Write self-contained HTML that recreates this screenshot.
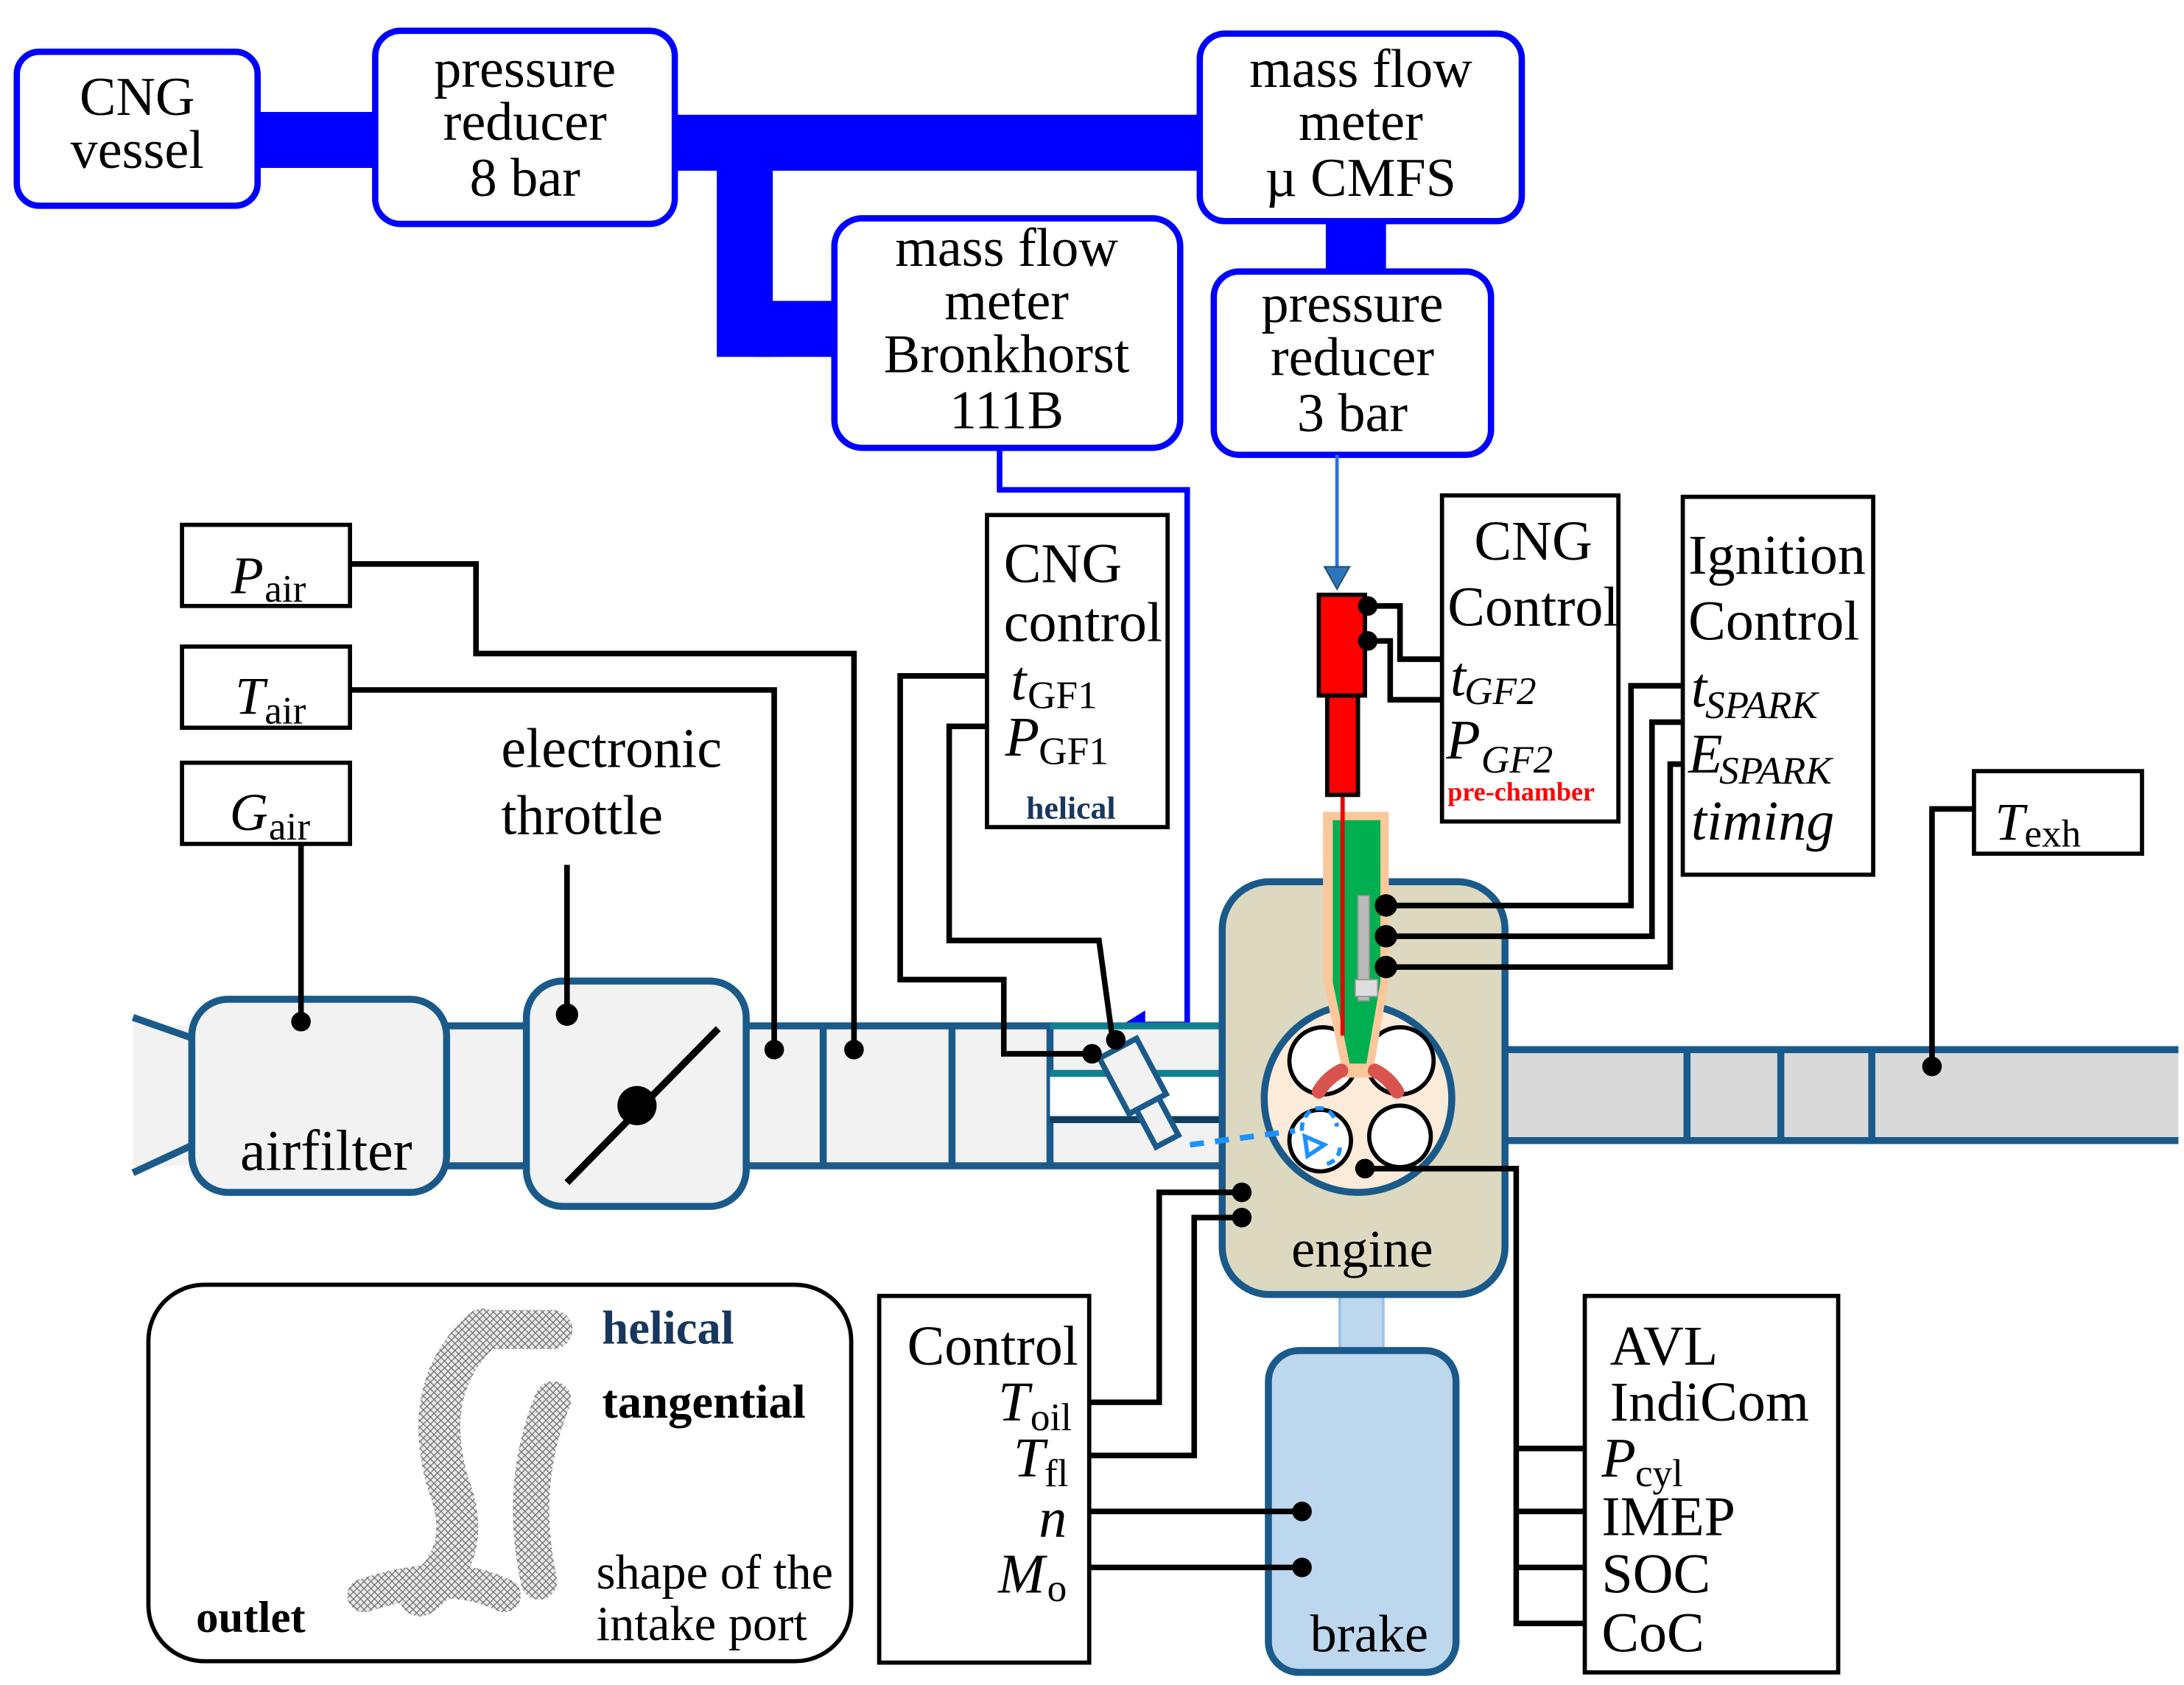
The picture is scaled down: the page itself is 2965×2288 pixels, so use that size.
<!DOCTYPE html>
<html><head><meta charset="utf-8"><style>
html,body{margin:0;padding:0;background:#fff}
svg{display:block}
text{font-family:"Liberation Serif",serif}
</style></head><body>
<svg width="2965" height="2288" viewBox="0 0 1560 1204" preserveAspectRatio="none" xmlns="http://www.w3.org/2000/svg">
<defs>
<pattern id="mesh" width="5" height="5" patternUnits="userSpaceOnUse"><rect width="5" height="5" fill="#e8e8e8"/><path d="M0 0L5 5M5 0L0 5" stroke="#666" stroke-width="0.6"/></pattern>
</defs>
<g fill="#0000ff">
<rect x="180" y="80" width="92" height="40"/>
<rect x="478" y="82" width="383" height="40"/>
<rect x="512" y="100" width="40" height="155"/>
<rect x="540" y="215" width="60" height="40"/>
<rect x="947" y="155" width="43" height="42"/>
</g>
<g fill="#fff" stroke="#0000ff" stroke-width="4.5">
<rect x="12" y="37" width="172" height="110" rx="16"/>
<rect x="268" y="22" width="214" height="138" rx="18"/>
<rect x="857" y="24" width="230" height="134" rx="18"/>
<rect x="596" y="156" width="247" height="164" rx="20"/>
<rect x="867" y="194" width="198" height="131" rx="18"/>
</g>
<g font-size="39" text-anchor="middle" fill="#000">
<text x="98" y="82">CNG</text><text x="98" y="120">vessel</text>
<text x="375" y="62">pressure</text><text x="375" y="100">reducer</text><text x="375" y="140">8 bar</text>
<text x="972" y="62">mass flow</text><text x="972" y="100">meter</text><text x="972" y="140">µ CMFS</text>
<text x="719" y="190">mass flow</text><text x="719" y="228">meter</text><text x="719" y="266">Bronkhorst</text><text x="719" y="306">111B</text>
<text x="966" y="230">pressure</text><text x="966" y="268">reducer</text><text x="966" y="308">3 bar</text>
</g>
<polyline points="714,320 714,350 848,350 848,732 815,732" fill="none" stroke="#0000ff" stroke-width="4"/>
<polygon points="802,732 818,722 818,742" fill="#0000ff"/>
<line x1="955" y1="325" x2="955" y2="408" stroke="#2e6fe0" stroke-width="2.5"/>
<polygon points="946,405 964,405 955,421" fill="#2e75b6" stroke="#1f4e79" stroke-width="1"/>

<rect x="95" y="733" width="780" height="100" fill="#f2f2f2"/>
<polygon points="95,725 136,740 136,815 95,840" fill="#f2f2f2"/>
<g stroke="#1a5a8a" stroke-width="5" fill="none">
<line x1="95" y1="727" x2="138" y2="742"/><line x1="95" y1="838" x2="138" y2="818"/>
<line x1="318" y1="733" x2="378" y2="733"/><line x1="318" y1="833" x2="378" y2="833"/>
<line x1="532" y1="733" x2="752" y2="733"/><line x1="532" y1="833" x2="875" y2="833"/>
<line x1="588" y1="733" x2="588" y2="833"/><line x1="680" y1="733" x2="680" y2="833"/><line x1="750" y1="733" x2="750" y2="833"/>
</g>
<rect x="750" y="767" width="125" height="33" fill="#fff"/>
<line x1="750" y1="733" x2="875" y2="733" stroke="#108090" stroke-width="5"/>
<line x1="750" y1="767" x2="875" y2="767" stroke="#108090" stroke-width="5"/>
<line x1="750" y1="800" x2="875" y2="800" stroke="#0f3e5e" stroke-width="5"/>
<rect x="137" y="714" width="182" height="138" rx="26" fill="#f2f2f2" stroke="#1a5a8a" stroke-width="5"/>
<rect x="376" y="701" width="157" height="161" rx="26" fill="#f2f2f2" stroke="#1a5a8a" stroke-width="5"/>
<text x="233" y="836" font-size="41" text-anchor="middle">airfilter</text>
<line x1="405" y1="845" x2="513" y2="735" stroke="#000" stroke-width="5"/>
<circle cx="455" cy="790" r="14"/>

<rect x="1075" y="750" width="481" height="65" fill="#d9d9d9"/>
<g stroke="#1a5a8a" stroke-width="5">
<line x1="1075" y1="750" x2="1556" y2="750"/><line x1="1075" y1="815" x2="1556" y2="815"/>
<line x1="1205" y1="750" x2="1205" y2="815"/><line x1="1272" y1="750" x2="1272" y2="815"/><line x1="1337" y1="750" x2="1337" y2="815"/>
</g>

<rect x="957" y="922" width="31" height="46" fill="#bdd7ee" stroke="#9dc3e6" stroke-width="2"/>
<rect x="906" y="965" width="134" height="230" rx="22" fill="#bdd7ee" stroke="#1a5a8a" stroke-width="5"/>
<text x="978" y="1180" font-size="38" text-anchor="middle">brake</text>

<rect x="873" y="630" width="202" height="295" rx="34" fill="#ddd8c0" stroke="#1a5a8a" stroke-width="5"/>
<text x="973" y="905" font-size="38" text-anchor="middle">engine</text>
<circle cx="970" cy="785" r="67" fill="#fdebd9" stroke="#1a5a8a" stroke-width="5"/>
<g fill="#fff" stroke="#000" stroke-width="3">
<circle cx="945" cy="758" r="24"/><circle cx="1000" cy="758" r="24"/>
<circle cx="943" cy="815" r="22"/><circle cx="1000" cy="812" r="22"/>
</g>
<path d="M930 808 A12 14 0 0 1 955 805 M957 820 A12 12 0 0 1 945 832" fill="none" stroke="#1e90ff" stroke-width="3" stroke-dasharray="6,4"/>
<polygon points="932,812 946,818 934,826" fill="none" stroke="#1e90ff" stroke-width="3"/>
<line x1="850" y1="818" x2="925" y2="808" stroke="#1e90ff" stroke-width="4" stroke-dasharray="10,8"/>
<polygon points="945,580 992,580 992,700 980,770 960,770 945,700" fill="#fbc89c"/>
<polygon points="952,586 986,586 986,702 976,760 964,760 952,702" fill="#00b050"/>
<path d="M958 765 Q948 770 942 780 M982 765 Q992 770 998 780" stroke="#d9534f" stroke-width="10" stroke-linecap="round" fill="none"/>
<line x1="959" y1="568" x2="959" y2="740" stroke="#e00" stroke-width="3"/>
<rect x="970" y="640" width="8" height="75" fill="#bbb" stroke="#999"/>
<rect x="968" y="700" width="16" height="12" fill="#ddd" stroke="#999"/>
<rect x="942" y="425" width="33" height="72" fill="#f00" stroke="#000" stroke-width="3"/>
<rect x="948" y="497" width="22" height="71" fill="#f00" stroke="#000" stroke-width="3"/>

<g transform="rotate(-28 815 780)" fill="#f2f2f2" stroke="#1a5a8a" stroke-width="4">
<rect x="800" y="745" width="30" height="45"/>
<rect x="806" y="790" width="18" height="30"/>
</g>

<g fill="#fff" stroke="#000" stroke-width="3">
<rect x="130" y="375" width="120" height="58"/>
<rect x="130" y="462" width="120" height="58"/>
<rect x="130" y="545" width="120" height="58"/>
<rect x="705" y="368" width="129" height="223"/>
<rect x="1030" y="354" width="126" height="233"/>
<rect x="1202" y="355" width="136" height="270"/>
<rect x="1410" y="551" width="120" height="59"/>
<rect x="628" y="926" width="150" height="262"/>
<rect x="1132" y="926" width="181" height="269"/>
<rect x="106" y="918" width="502" height="269" rx="40"/>
</g>
<g font-size="38" font-style="italic">
<text x="165" y="424">P</text><text x="189" y="430" font-size="28" font-style="normal">air</text>
<text x="168" y="510">T</text><text x="189" y="517" font-size="28" font-style="normal">air</text>
<text x="164" y="593">G</text><text x="192" y="600" font-size="28" font-style="normal">air</text>
<text x="1425" y="600">T</text><text x="1446" y="605" font-size="28" font-style="normal">exh</text>
</g>
<g font-size="40">
<text x="358" y="548">electronic</text><text x="358" y="596">throttle</text>
<text x="717" y="416">CNG</text><text x="717" y="458">control</text>
<text x="722" y="500" font-style="italic">t</text><text x="734" y="506" font-size="28">GF1</text>
<text x="718" y="540" font-style="italic">P</text><text x="742" y="546" font-size="28">GF1</text>
<text x="1053" y="400">CNG</text><text x="1034" y="447">Control</text>
<text x="1036" y="497" font-style="italic">t</text><text x="1046" y="503" font-size="28" font-style="italic">GF2</text>
<text x="1033" y="542" font-style="italic">P</text><text x="1058" y="552" font-size="28" font-style="italic">GF2</text>
<text x="1206" y="410">Ignition</text><text x="1206" y="457">Control</text>
<text x="1208" y="505" font-style="italic">t</text><text x="1218" y="513" font-size="28" font-style="italic">SPARK</text>
<text x="1206" y="552" font-style="italic">E</text><text x="1228" y="560" font-size="28" font-style="italic">SPARK</text>
<text x="1208" y="600" font-style="italic">timing</text>
<text x="648" y="975">Control</text>
<text x="713" y="1015" font-style="italic">T</text><text x="736" y="1022" font-size="28">oil</text>
<text x="724" y="1055" font-style="italic">T</text><text x="746" y="1062" font-size="28">fl</text>
<text x="742" y="1098" font-style="italic">n</text>
<text x="713" y="1138" font-style="italic">M</text><text x="748" y="1144" font-size="28">o</text>
<text x="1150" y="975">AVL</text><text x="1150" y="1015">IndiCom</text>
<text x="1144" y="1055" font-style="italic">P</text><text x="1168" y="1062" font-size="28">cyl</text>
<text x="1144" y="1097">IMEP</text><text x="1144" y="1138">SOC</text><text x="1144" y="1180">CoC</text>
</g>
<text x="733" y="585" font-size="23" font-weight="bold" fill="#17375e">helical</text>
<text x="1034" y="572" font-size="19" font-weight="bold" fill="#f00">pre-chamber</text>

<g stroke="url(#mesh)" fill="none" stroke-linecap="round">
<path d="M345 950 Q300 990 320 1060 Q340 1110 300 1140" stroke-width="30"/>
<path d="M345 950 L395 950" stroke-width="28"/>
<path d="M395 1000 Q370 1060 385 1130" stroke-width="26"/>
<path d="M260 1140 Q320 1120 360 1140" stroke-width="24"/>
</g>
<text x="430" y="960" font-size="34" font-weight="bold" fill="#17375e">helical</text>
<text x="430" y="1013" font-size="34" font-weight="bold">tangential</text>
<text x="140" y="1166" font-size="32" font-weight="bold">outlet</text>
<text x="426" y="1135" font-size="35">shape of the</text>
<text x="426" y="1172" font-size="35">intake port</text>

<g fill="none" stroke="#000" stroke-width="4">
<polyline points="250,403 340,403 340,467 610,467 610,750"/>
<polyline points="250,493 553,493 553,750"/>
<polyline points="215,603 215,730"/>
<polyline points="405,618 405,725"/>
<polyline points="705,483 643,483 643,700 717,700 717,753 780,753"/>
<polyline points="705,519 678,519 678,672 785,672 795,745"/>
<polyline points="977,433 1000,433 1000,471 1030,471"/>
<polyline points="977,458 993,458 993,500 1030,500"/>
<polyline points="990,647 1165,647 1165,490 1202,490"/>
<polyline points="990,669 1180,669 1180,516 1202,516"/>
<polyline points="990,691 1193,691 1193,546 1202,546"/>
<polyline points="1380,762 1380,578 1410,578"/>
<polyline points="975,835 1083,835 1083,1160 1132,1160"/>
<line x1="1083" y1="1035" x2="1132" y2="1035"/><line x1="1083" y1="1080" x2="1132" y2="1080"/><line x1="1083" y1="1120" x2="1132" y2="1120"/>
<polyline points="778,1002 828,1002 828,852 887,852"/>
<polyline points="778,1040 853,1040 853,870 887,870"/>
<line x1="778" y1="1080" x2="930" y2="1080"/>
<line x1="778" y1="1120" x2="930" y2="1120"/>
</g>
<g fill="#000">
<circle cx="610" cy="750" r="7"/><circle cx="553" cy="750" r="7"/><circle cx="215" cy="730" r="7"/><circle cx="405" cy="725" r="8"/>
<circle cx="780" cy="753" r="7"/><circle cx="797" cy="743" r="7"/>
<circle cx="977" cy="433" r="7"/><circle cx="977" cy="458" r="7"/>
<circle cx="990" cy="647" r="8"/><circle cx="990" cy="669" r="8"/><circle cx="990" cy="691" r="8"/>
<circle cx="1380" cy="762" r="7"/><circle cx="975" cy="835" r="7"/>
<circle cx="887" cy="852" r="7"/><circle cx="887" cy="870" r="7"/>
<circle cx="930" cy="1080" r="7"/><circle cx="930" cy="1120" r="7"/>
</g>
</svg>
</body></html>
